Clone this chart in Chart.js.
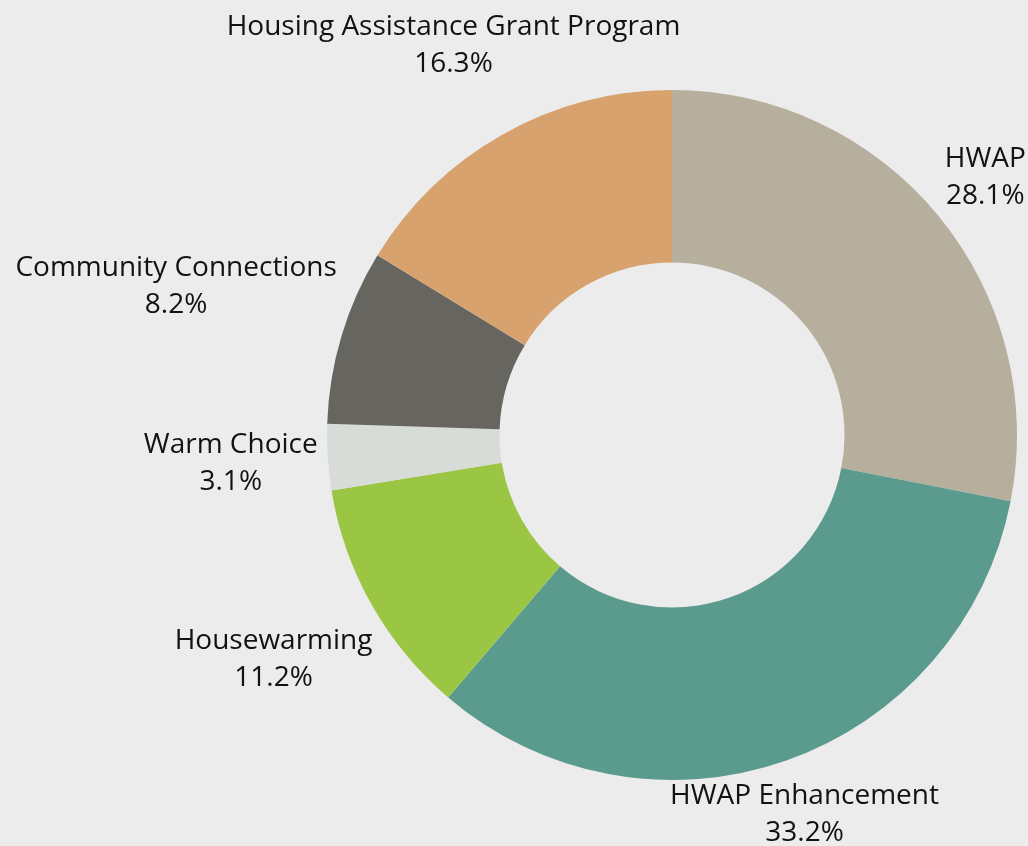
<!DOCTYPE html>
<html>
<head>
<meta charset="utf-8">
<script src="https://cdn.jsdelivr.net/npm/chart.js@4/dist/chart.umd.min.js"></script>
<style>
html,body{margin:0;padding:0;background:#ececec;}
#wrap{width:1028px;height:846px;}
</style>
</head>
<body>
<div id="wrap"><canvas id="c" width="1028" height="846"></canvas></div>
<script>
const categories = ["HWAP", "HWAP Enhancement", "Housewarming", "Warm Choice", "Community Connections", "Housing Assistance Grant Program"];
const shares = [28.1, 33.2, 11.2, 3.1, 8.2, 16.3];
const percentLabels = ["28.1%", "33.2%", "11.2%", "3.1%", "8.2%", "16.3%"];
const sliceColors = ["#b7af9d", "#5a9b8e", "#9bc644", "#d8dcd8", "#67655f", "#d8a26e"];

const FONT = '28px "Open Sans"';
const LINE_H = 37;

const labelPlugin = {
  id: 'outsideLabels',
  afterDatasetsDraw(chart) {
    const ctx = chart.ctx;
    const meta = chart.getDatasetMeta(0);
    const W = chart.width, H = chart.height;
    ctx.save();
    ctx.font = FONT;
    ctx.fillStyle = '#121212';
    ctx.textAlign = 'center';
    ctx.textBaseline = 'middle';
    meta.data.forEach((arc, i) => {
      const mid = (arc.startAngle + arc.endAngle) / 2;
      const ux = Math.cos(mid), uy = Math.sin(mid);
      const lines = [categories[i], percentLabels[i]];
      const hw = Math.max(...lines.map(l => ctx.measureText(l).width)) / 2;
      const hh = LINE_H;
      let r = arc.outerRadius + 8 + Math.abs(ux) * hw + Math.abs(uy) * hh;
      let cx, cy;
      for (;;) {
        cx = arc.x + r * ux; cy = arc.y + r * uy;
        if (cy - hh >= 8 && cy + hh <= H + 6 && cx - hw >= 4 && cx + hw <= W - 2) break;
        r -= 1;
        if (r < arc.outerRadius) break;
      }
      ctx.fillText(lines[0], cx, cy - LINE_H / 2);
      ctx.fillText(lines[1], cx, cy + LINE_H / 2);
    });
    ctx.restore();
  }
};

new Chart(document.getElementById('c'), {
  type: 'doughnut',
  data: {
    labels: categories,
    datasets: [{
      data: shares,
      backgroundColor: sliceColors,
      borderWidth: 0
    }]
  },
  options: {
    responsive: false,
    animation: false,
    cutout: '50%',
    layout: { padding: { left: 327, right: 11, top: 90, bottom: 66 } },
    plugins: { legend: { display: false }, tooltip: { enabled: false } }
  },
  plugins: [labelPlugin]
});
</script>
</body>
</html>
